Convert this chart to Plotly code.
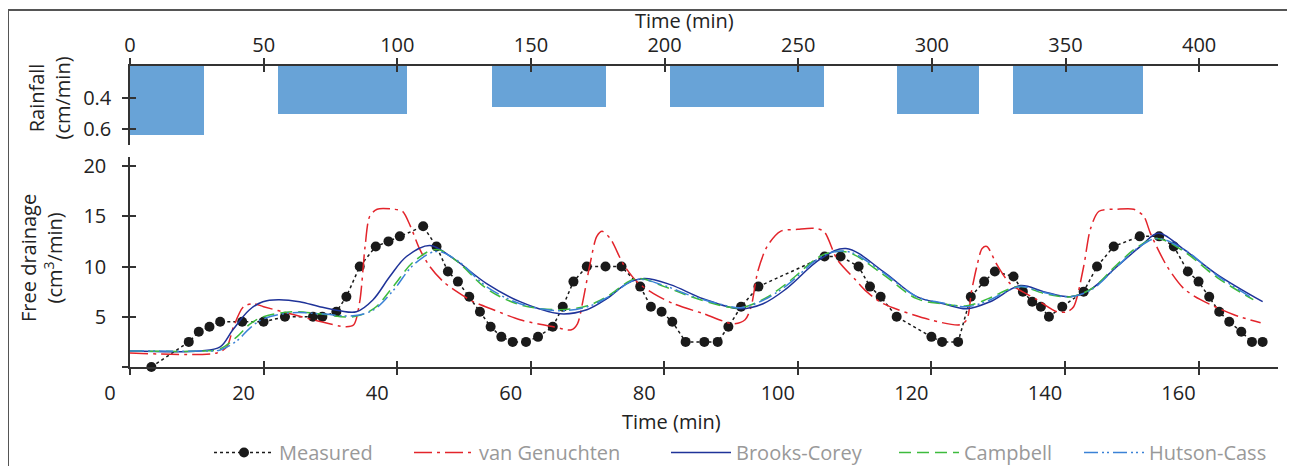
import plotly.graph_objects as go

# ---------------- data ----------------
rain_start = [0, 55.5, 135.5, 202, 287, 330.5]
rain_end = [27.5, 103.5, 178, 259.5, 317.5, 379]
rain_rate = [0.637, 0.50, 0.46, 0.46, 0.50, 0.50]

t_meas = [3.2, 8.8, 10.3, 11.9, 13.5, 16.8, 20.0, 23.2, 27.4, 28.8, 30.9, 32.4, 34.4, 36.8, 38.7,
          40.4, 43.9, 45.9, 47.6, 49.1, 50.8, 52.4, 54.0, 55.6, 57.3, 59.3, 61.1, 63.3, 64.8, 66.4,
          68.4, 71.2, 73.6, 76.4, 78.0, 79.6, 81.2, 83.2, 86.0, 88.0, 89.6, 91.5, 94.1, 104.0, 106.4,
          109.1, 110.8, 112.4, 114.8, 120.0, 121.6, 124.0, 125.9, 127.9, 129.5, 132.3, 133.7, 135.1,
          136.4, 137.6, 139.6, 142.8, 144.8, 147.3, 151.2, 154.1, 156.3, 158.4, 160.0, 161.6, 163.1,
          164.6, 166.4, 168.0, 169.6]
v_meas = [0, 2.5, 3.5, 4.0, 4.5, 4.5, 4.5, 5.0, 5.0, 5.0, 5.5, 7.0, 10.0, 12.0, 12.5,
          13.0, 14.0, 12.0, 9.5, 8.5, 7.0, 5.5, 4.0, 3.0, 2.5, 2.5, 3.0, 4.0, 6.0, 8.5,
          10.0, 10.0, 10.0, 8.0, 6.0, 5.5, 4.5, 2.5, 2.5, 2.5, 4.0, 6.0, 8.0, 11.0, 11.0,
          10.0, 8.0, 7.0, 5.0, 3.0, 2.5, 2.5, 7.0, 8.5, 9.5, 9.0, 7.5, 6.5,
          6.0, 5.0, 6.0, 7.5, 10.0, 12.0, 13.0, 13.0, 12.0, 9.5, 8.5, 7.0, 5.5,
          4.5, 3.5, 2.5, 2.5]

t_vg = [0, 13, 14.5, 15.5, 17.0, 18.5, 20, 24, 28, 32.4, 33.5, 34.4, 35.2, 35.9, 37.0, 39.5, 40.8,
        42.0, 43.4, 44.9, 46.9, 49.4, 51.4, 54.4, 58.4, 63.4, 66.1, 67.0, 67.8, 68.9, 69.9, 70.7,
        71.9, 73.9, 75.9, 78.4, 81.4, 85.9, 90.4, 92.1, 93.0, 94.0, 95.4, 97.4, 100, 102.4, 103.9,
        105.9, 108.6, 110.3, 112.8, 119.8, 124.3, 125.3, 126.0, 126.8, 127.6, 128.3, 129.8, 131.8,
        135.8, 138.8, 140.3, 141.3, 142.8, 143.8, 145.1, 147.8, 150.3, 151.8, 152.8, 155.3, 157.8,
        160.3, 165.3, 169.3]
v_vg = [1.4, 1.4, 2.0, 4.0, 6.0, 6.3, 6.0, 5.3, 4.6, 4.0, 4.2, 6.5, 12.0, 15.0, 15.7, 15.7, 15.5,
        14.0, 11.7, 10.0, 8.5, 7.3, 6.5, 5.7, 4.7, 4.0, 3.7, 4.3, 6.5, 10.3, 13.0, 13.5,
        12.8, 10.2, 8.5, 7.3, 6.3, 5.3, 4.3, 4.7, 6.0, 9.5, 12.0, 13.5, 13.7, 13.8, 13.5,
        10.7, 8.7, 7.5, 6.3, 4.7, 4.2, 4.7, 7.5, 10.0, 11.8, 12.0, 10.2, 8.3,
        6.7, 5.5, 5.5, 6.0, 10.0, 13.7, 15.5, 15.7, 15.7, 15.0, 13.3, 10.0, 7.8,
        6.7, 5.2, 4.4]

t_bc = [0, 10.5, 13.5, 15.4, 17.9, 19.9, 22.2, 25.4, 28.4, 31.4, 33.9, 36.4, 38.9, 41.4, 44.9, 48.4,
        53.4, 58.4, 64.4, 68.4, 71.4, 74.4, 77.0, 80.9, 85.8, 91.3, 94.8, 98.3, 103.3, 107.2, 112.8,
        117.8, 121.8, 125.3, 128.8, 133.3, 136.8, 140.8, 143.8, 147.8, 151.3, 154.0, 157.8, 162.8, 169.6]
v_bc = [1.6, 1.6, 2.0, 3.7, 5.7, 6.5, 6.7, 6.5, 6.0, 5.6, 5.5, 6.7, 9.0, 11.0, 12.1, 10.8,
        8.3, 6.5, 5.3, 5.7, 6.8, 8.3, 8.8, 8.2, 6.8, 5.8, 6.3, 7.8, 10.7, 11.8, 9.5,
        7.0, 6.3, 5.8, 6.5, 8.1, 7.5, 7.0, 7.7, 10.0, 12.0, 13.3, 11.7, 9.2, 6.5]

t_cb = [0, 11, 13.5, 16, 18, 20, 24.3, 28.4, 33.4, 36.5, 39.4, 42.5, 45.9, 49, 53.4, 58.4, 64.4,
        68.5, 71.4, 75.9, 80, 84, 89.3, 91.5, 95, 98.3, 103.3, 105.8, 108, 112.8, 117.8, 121.5,
        125.3, 128.5, 131.8, 133.5, 137, 140.8, 144, 147.8, 151, 153.8, 157.8, 162.8, 168.2]
v_cb = [1.6, 1.6, 1.8, 3.0, 4.3, 5.0, 5.5, 5.3, 5.0, 5.8, 8.0, 10.5, 11.7, 10.5, 7.8, 6.2, 5.7,
        6.1, 7.0, 8.8, 8.0, 7.0, 6.0, 5.9, 6.8, 8.3, 11.0, 11.5, 11.3, 9.2, 6.8, 6.3,
        6.1, 6.8, 7.8, 8.0, 7.3, 7.0, 7.8, 10.2, 12.0, 12.8, 11.5, 8.9, 6.7]

t_hc = t_cb
v_hc = [1.6, 1.6, 1.7, 2.6, 3.9, 4.8, 5.4, 5.3, 5.1, 5.7, 7.6, 10.2, 11.5, 10.6, 8.0, 6.3, 5.6,
        6.0, 6.9, 8.7, 8.1, 7.1, 6.1, 5.9, 6.7, 8.1, 10.9, 11.5, 11.4, 9.4, 7.0, 6.4,
        6.0, 6.6, 7.7, 8.0, 7.4, 7.0, 7.7, 10.0, 11.9, 12.8, 11.7, 9.1, 6.8]

bottom_ticks = [0, 20, 40, 60, 80, 100, 120, 140, 160]
top_ticks = [0, 50, 100, 150, 200, 250, 300, 350, 400]
drain_ticks = [0, 5, 10, 15, 20]
drain_labels = ["", "5", "10", "15", "20"]
rain_ticks = [0.4, 0.6]
rain_labels = ["0.4", "0.6"]

# ---------------- figure ----------------
FONT = "Open Sans"
AX = "#333333"
OFF = 8  # default page margin of the html body
W, H = 1295 - OFF, 466 - OFF
ITEMW = 60
fig = go.Figure()

rain_mid = [(a + b) / 2 for a, b in zip(rain_start, rain_end)]
rain_w = [b - a for a, b in zip(rain_start, rain_end)]
fig.add_trace(go.Bar(x=rain_mid, y=rain_rate, width=rain_w, base=0, xaxis="x2", yaxis="y2",
                     marker=dict(color="#68a3d7", line=dict(width=0)), showlegend=False,
                     hoverinfo="skip"))

fig.add_trace(go.Scatter(x=t_meas, y=v_meas, mode="lines+markers", name="Measured",
                         line=dict(color="#1a1a1a", dash="3px,3px", width=1.5),
                         marker=dict(color="#1a1a1a", size=10), cliponaxis=False,
                         legendwidth=200 - ITEMW - 15))
fig.add_trace(go.Scatter(x=t_vg, y=v_vg, mode="lines", name="van Genuchten",
                         line=dict(color="#e3242b", dash="18px,5px,3px,5px", width=1.5,
                                   shape="spline", smoothing=0.8),
                         legendwidth=257 - ITEMW - 15))
fig.add_trace(go.Scatter(x=t_bc, y=v_bc, mode="lines", name="Brooks-Corey",
                         line=dict(color="#1f3399", width=1.5, shape="spline", smoothing=1.0),
                         legendwidth=228 - ITEMW - 15))
fig.add_trace(go.Scatter(x=t_cb, y=v_cb, mode="lines", name="Campbell",
                         line=dict(color="#3dbb3d", dash="12px,6px", width=1.5,
                                   shape="spline", smoothing=1.0),
                         legendwidth=185 - ITEMW - 15))
fig.add_trace(go.Scatter(x=t_hc, y=v_hc, mode="lines", name="Hutson-Cass",
                         line=dict(color="#3b82d6", dash="14px,4px,2px,3px,2px,4px", width=1.5,
                                   shape="spline", smoothing=1.0),
                         legendwidth=125))

# empty traces to activate overlay axes (used for crossing ticks)
fig.add_trace(go.Scatter(x=[], y=[], xaxis="x3", yaxis="y", showlegend=False))
fig.add_trace(go.Scatter(x=[], y=[], xaxis="x", yaxis="y3", showlegend=False))
fig.add_trace(go.Scatter(x=[], y=[], xaxis="x4", yaxis="y2", showlegend=False))
fig.add_trace(go.Scatter(x=[], y=[], xaxis="x2", yaxis="y4", showlegend=False))

tickfont = dict(family=FONT, size=20, color="#222222")
common = dict(showgrid=False, zeroline=False, ticklen=6, tickwidth=1.5, tickcolor=AX)

XR = [0, 171.9]
X2R = [0, 429.5]
YR = [0, 20.9]
Y2R = [0.703, 0.194]
YD = [0, 0.6977]
Y2D = [0.7375, 1]

fig.update_layout(
    width=W, height=H,
    margin=dict(l=130 - OFF, r=17, t=66 - OFF, b=99, autoexpand=False),
    paper_bgcolor="white", plot_bgcolor="white",
    font=dict(family=FONT, size=20, color="#222222"),
    bargap=0,
    xaxis=dict(domain=[0, 1], range=XR, anchor="y", tickvals=bottom_ticks, ticks="outside",
               showline=True, linecolor=AX, linewidth=1.5, tickfont=tickfont,
               ticklabelshift=-20, ticklabelstandoff=1, **common),
    xaxis3=dict(domain=[0, 1], range=XR, anchor="y", overlaying="x", tickvals=bottom_ticks,
                ticks="inside", showticklabels=False, showline=False, **common),
    yaxis=dict(domain=YD, range=YR, anchor="x", tickvals=drain_ticks, ticktext=drain_labels,
               ticks="outside", showline=True, linecolor=AX, linewidth=1.5, tickfont=tickfont,
               ticklabelstandoff=12, **common),
    yaxis3=dict(domain=YD, range=YR, anchor="x", overlaying="y", tickvals=drain_ticks,
                ticks="inside", showticklabels=False, showline=False, **common),
    xaxis2=dict(domain=[0, 1], range=X2R, anchor="y2", side="top", tickvals=top_ticks,
                ticks="outside", showline=True, linecolor=AX, linewidth=1.5, tickfont=tickfont,
                ticklabelstandoff=-2, **common),
    xaxis4=dict(domain=[0, 1], range=X2R, anchor="y2", side="top", overlaying="x2",
                tickvals=top_ticks, ticks="inside", showticklabels=False, showline=False, **common),
    yaxis2=dict(domain=Y2D, range=Y2R, anchor="x2", tickvals=rain_ticks, ticktext=rain_labels,
                ticks="outside", showline=True, linecolor=AX, linewidth=1.5, tickfont=tickfont,
                ticklabelstandoff=7, **common),
    yaxis4=dict(domain=Y2D, range=Y2R, anchor="x2", overlaying="y2", tickvals=rain_ticks,
                ticks="inside", showticklabels=False, showline=False, **common),
    legend=dict(orientation="h", xref="container", yref="container",
                x=(209 - OFF) / W, y=1 - (433 - OFF) / H, xanchor="left", yanchor="top",
                font=dict(family=FONT, size=20, color="#999999"), itemwidth=ITEMW,
                bgcolor="rgba(0,0,0,0)"),
)

def px_x(px):
    return (px - 130) / 1148

def px_y(py):
    return (367 - py) / 301

annots = [
    dict(text="Time (min)", x=px_x(684), y=px_y(20.5)),
    dict(text="Time (min)", x=px_x(671), y=px_y(421)),
    dict(text="Rainfall<br>(cm/min)", x=px_x(48.5), y=px_y(98), textangle=-90),
    dict(text="Free drainage<br>(cm<sup>3</sup>/min)", x=px_x(41), y=px_y(258), textangle=-90),
]
for a in annots:
    fig.add_annotation(xref="paper", yref="paper", showarrow=False, xanchor="center",
                       yanchor="middle", font=dict(family=FONT, size=20, color="#222222"), **a)

fig.add_shape(type="rect", xref="paper", yref="paper", x0=px_x(8), x1=px_x(1293),
              y0=px_y(480), y1=px_y(10), line=dict(color="#555555", width=2), layer="below")

fig.write_html("out.html")
